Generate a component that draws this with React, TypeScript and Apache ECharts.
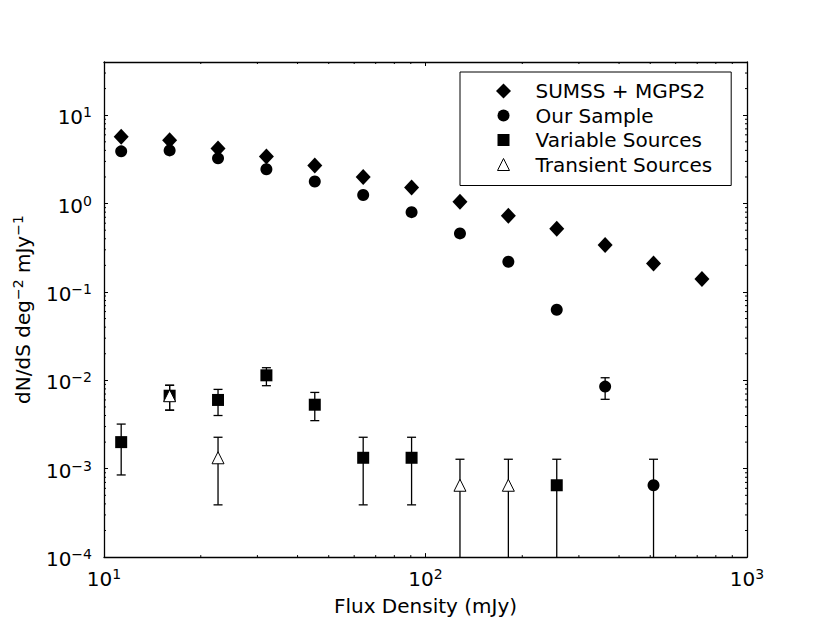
import React, { useEffect, useRef } from "react";
import * as echarts from "echarts";

// ---- data ----
const fluxBins = [11.31, 16, 22.63, 32, 45.25, 64, 90.51, 128, 181.02, 256, 362.04, 512, 724.08];
const sumssMgps2 = [5.7, 5.2, 4.2, 3.4, 2.7, 2.0, 1.52, 1.05, 0.73, 0.52, 0.34, 0.21, 0.14];
const ourSample: (number | null)[] = [3.9, 4.0, 3.25, 2.45, 1.78, 1.25, 0.8, 0.46, 0.22, 0.063, 0.0085, 0.00065, null];
const sampleErrFlux = [362.04, 512];
const sampleErrLow: (number | null)[] = [0.0061, null];
const sampleErrHigh = [0.0107, 0.00128];

const variableFlux = [11.31, 16, 22.63, 32, 45.25, 64, 90.51, 256];
const variableValues = [0.002, 0.0067, 0.006, 0.0114, 0.0053, 0.00133, 0.00133, 0.00065];
const variableErrLow: (number | null)[] = [0.00085, 0.0046, 0.004, 0.0087, 0.0035, 0.00039, 0.00039, null];
const variableErrHigh = [0.0032, 0.0088, 0.0079, 0.0139, 0.0073, 0.00227, 0.00227, 0.00128];

const transientFlux = [16, 22.63, 128, 181.02];
const transientValues = [0.0067, 0.00133, 0.00065, 0.00065];
const transientErrLow: (number | null)[] = [0.0046, 0.00039, null, null];
const transientErrHigh = [0.0088, 0.00227, 0.00128, 0.00128];

const legendNames = ["SUMSS + MGPS2", "Our Sample", "Variable Sources", "Transient Sources"];
const xAxisTitle = "Flux Density (mJy)";
const yAxisTitle = "dN/dS deg{s|\u22122} mJy{s|\u22121}";
const xRange = [10, 1000];
const yRange = [1e-4, 40];

// minor tick positions (axis decoration, 2..9 per decade)
const xMinor: number[] = [];
[10, 100].forEach((d) => { for (let m = 2; m <= 9; m++) xMinor.push(m * d); });
const yMinor: number[] = [];
[1e-4, 1e-3, 1e-2, 1e-1, 1, 10].forEach((d) => {
  for (let m = 2; m <= 9; m++) if (m * d <= yRange[1] * 0.999) yMinor.push(m * d);
});

const FONT = "DejaVu Sans";

// legend icons in a 15x15 box (corner moveTo points keep the box, marks drawn smaller)
const ICON_CIRCLE = "path://M0,0M15,15M13.5,7.5A6,6,0,1,1,1.5,7.5A6,6,0,1,1,13.5,7.5Z";
const ICON_RECT = "path://M0,0M15,15M1.5,1.5L13.5,1.5L13.5,13.5L1.5,13.5Z";
const ICON_TRI = "path://M0,0M15,15M7.5,1.5L13.5,13.5L1.5,13.5Z";

const powLabel = (v: number) => {
  const e = Math.round(Math.log10(v));
  if (Math.abs(v / Math.pow(10, e) - 1) > 1e-6) return "";
  return `{b|10}{s|${e < 0 ? "\u2212" : ""}${Math.abs(e)}}`;
};
const labelRich = {
  b: { fontSize: 20, lineHeight: 24, color: "#000", fontFamily: FONT },
  s: { fontSize: 14, lineHeight: 14, verticalAlign: "top", color: "#000", fontFamily: FONT },
};

export default function App() {
  const ref = useRef<HTMLDivElement>(null);
  useEffect(() => {
    if (!ref.current) return;
    const chart = echarts.init(ref.current, undefined, { renderer: "svg" });

    const errData: number[][] = [];
    const pushErr = (xs: number[], lo: (number | null)[], hi: number[]) =>
      xs.forEach((x, i) => errData.push([x, hi[i], lo[i] ?? 0]));
    pushErr(sampleErrFlux, sampleErrLow, sampleErrHigh);
    pushErr(variableFlux, variableErrLow, variableErrHigh);
    pushErr(transientFlux, transientErrLow, transientErrHigh);

    const lineStyle = { stroke: "#000", lineWidth: 1.3 };
    const tickStyle = { stroke: "#000", lineWidth: 1 };

    const axisLineCommon = { show: true, onZero: false, lineStyle: { color: "#000", width: 1.3 } };
    const axisTickCommon = { show: true, inside: true, length: 4, lineStyle: { color: "#000", width: 1 } };

    const option: any = {
      animation: false,
      textStyle: { fontFamily: FONT },
      grid: { left: 104, right: 83, top: 62, bottom: 62, containLabel: false },
      legend: {
        orient: "vertical",
        left: 460,
        top: 72,
        padding: [7, 19, 9, 35.5],
        itemWidth: 15,
        itemHeight: 15,
        itemGap: 0.5,
        borderColor: "#000",
        borderWidth: 1,
        backgroundColor: "#fff",
        selectedMode: false,
        textStyle: { fontSize: 20, lineHeight: 24, color: "#000", fontFamily: FONT, padding: [0, 0, 0, 19.5] },
        data: [
          { name: legendNames[0], icon: "diamond", itemStyle: { color: "#000", borderWidth: 0 } },
          { name: legendNames[1], icon: ICON_CIRCLE, itemStyle: { color: "#000", borderWidth: 0 } },
          { name: legendNames[2], icon: ICON_RECT, itemStyle: { color: "#000", borderWidth: 0 } },
          { name: legendNames[3], icon: ICON_TRI, itemStyle: { color: "#fff", borderColor: "#000", borderWidth: 1 } },
        ],
      },
      xAxis: [
        {
          type: "log", logBase: 10, min: xRange[0], max: xRange[1], position: "bottom",
          axisLine: axisLineCommon, axisTick: axisTickCommon, splitLine: { show: false },
          axisLabel: { margin: 10, formatter: powLabel, rich: labelRich },
          name: xAxisTitle, nameLocation: "middle", nameGap: 33,
          nameTextStyle: { fontSize: 20, lineHeight: 24, color: "#000", fontFamily: FONT },
        },
        {
          type: "log", logBase: 10, min: xRange[0], max: xRange[1], position: "top",
          axisLine: axisLineCommon, axisTick: axisTickCommon, splitLine: { show: false },
          axisLabel: { show: false },
        },
      ],
      yAxis: [
        {
          type: "log", logBase: 10, min: yRange[0], max: yRange[1], position: "left",
          axisLine: axisLineCommon, axisTick: axisTickCommon, splitLine: { show: false },
          axisLabel: { margin: 12, formatter: powLabel, rich: labelRich, padding: [4, 0, 0, 0] },
          name: yAxisTitle, nameLocation: "middle", nameGap: 46,
          nameTextStyle: {
            fontSize: 20, lineHeight: 24, color: "#000", fontFamily: FONT,
            rich: { s: { fontSize: 14, lineHeight: 14, verticalAlign: "top", color: "#000", fontFamily: FONT } },
          },
        },
        {
          type: "log", logBase: 10, min: yRange[0], max: yRange[1], position: "right",
          axisLine: axisLineCommon, axisTick: axisTickCommon, splitLine: { show: false },
          axisLabel: { show: false },
        },
      ],
      series: [
        {
          type: "custom", name: "xMinor", silent: true, z: 1,
          data: xMinor.map((v) => [v, 1]),
          renderItem: (params: any, api: any) => {
            const cs = params.coordSys;
            const p = api.coord([api.value(0), 1]);
            const yb = cs.y + cs.height;
            return {
              type: "group",
              children: [
                { type: "line", shape: { x1: p[0], y1: yb, x2: p[0], y2: yb - 2 }, style: tickStyle },
                { type: "line", shape: { x1: p[0], y1: cs.y, x2: p[0], y2: cs.y + 2 }, style: tickStyle },
              ],
            };
          },
        },
        {
          type: "custom", name: "yMinor", silent: true, z: 1,
          data: yMinor.map((v) => [100, v]),
          renderItem: (params: any, api: any) => {
            const cs = params.coordSys;
            const p = api.coord([100, api.value(1)]);
            const xr = cs.x + cs.width;
            return {
              type: "group",
              children: [
                { type: "line", shape: { x1: cs.x, y1: p[1], x2: cs.x + 2, y2: p[1] }, style: tickStyle },
                { type: "line", shape: { x1: xr, y1: p[1], x2: xr - 2, y2: p[1] }, style: tickStyle },
              ],
            };
          },
        },
        {
          type: "custom", name: "errors", silent: true, z: 2,
          encode: { x: 0, y: 1 },
          data: errData,
          renderItem: (params: any, api: any) => {
            const cs = params.coordSys;
            const x = api.value(0);
            const hi = api.value(1);
            const lo = api.value(2);
            const top = api.coord([x, hi]);
            const by = lo > 0 ? api.coord([x, lo])[1] : cs.y + cs.height;
            const children: any[] = [
              { type: "line", shape: { x1: top[0], y1: top[1], x2: top[0], y2: by }, style: lineStyle },
              { type: "line", shape: { x1: top[0] - 4.5, y1: top[1], x2: top[0] + 4.5, y2: top[1] }, style: lineStyle },
            ];
            if (lo > 0) {
              children.push({ type: "line", shape: { x1: top[0] - 4.5, y1: by, x2: top[0] + 4.5, y2: by }, style: lineStyle });
            }
            return { type: "group", children };
          },
        },
        {
          type: "scatter", name: legendNames[0], z: 3,
          symbol: "diamond", symbolSize: [15, 16],
          itemStyle: { color: "#000", opacity: 1 },
          data: fluxBins.map((x, i) => [x, sumssMgps2[i]]),
        },
        {
          type: "scatter", name: legendNames[1], z: 4,
          symbol: "circle", symbolSize: 12,
          itemStyle: { color: "#000", opacity: 1 },
          data: fluxBins.map((x, i) => [x, ourSample[i]]).filter((d) => d[1] != null),
        },
        {
          type: "scatter", name: legendNames[2], z: 5,
          symbol: "rect", symbolSize: 12,
          itemStyle: { color: "#000", opacity: 1 },
          data: variableFlux.map((x, i) => [x, variableValues[i]]),
        },
        {
          type: "scatter", name: legendNames[3], z: 6,
          symbol: "triangle", symbolSize: [12, 12],
          itemStyle: { color: "#fff", borderColor: "#000", borderWidth: 1, opacity: 1 },
          data: transientFlux.map((x, i) => [x, transientValues[i]]),
        },
      ],
    };
    chart.setOption(option);
    return () => chart.dispose();
  }, []);
  return (
    <div
      ref={ref}
      style={{ position: "fixed", left: 0, top: 0, width: 830, height: 623, background: "#fff" }}
    />
  );
}
